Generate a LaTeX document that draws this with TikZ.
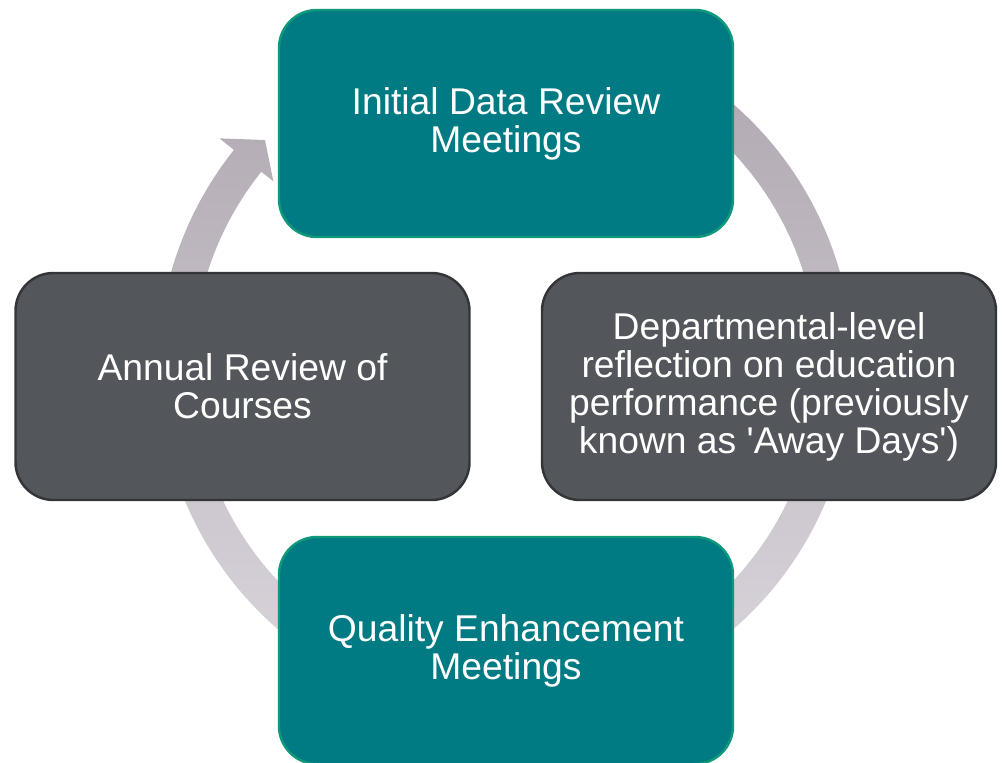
\documentclass[tikz,border=0pt]{standalone}
\usepackage{fontspec}
\setmainfont{Liberation Sans}
\usetikzlibrary{calc}

\definecolor{tealFill}{RGB}{0,122,131}
\definecolor{tealLine}{RGB}{16,152,122}
\definecolor{slateFill}{RGB}{83,86,90}
\definecolor{slateLine}{RGB}{52,53,56}
\definecolor{ringTop}{RGB}{174,166,176}
\definecolor{ringBottom}{RGB}{222,218,224}

\tikzset{
	stageBox/.style={rectangle, minimum width=4.54cm, minimum height=2.27cm, rounded corners=0.38cm, line width=0.7pt, align=center, text=white, font=\fontsize{10.6}{10.8}\selectfont},
	tealBox/.style={stageBox, draw=tealLine, fill=tealFill},
	slateBox/.style={stageBox, draw=slateLine, fill=slateFill}
}

\begin{document}
\begin{tikzpicture}
	\useasboundingbox (0,0) rectangle (10.02,7.62);
	\coordinate (hub) at (5.055,3.953);

	% cycle arrow, drawn first so the boxes sit on it
	\shade[top color=ringTop, bottom color=ringBottom] ($(hub)+(75:3.475)$) arc[start angle=75, end angle=-218.6, radius=3.475] -- ($(hub)+(141.4:3.66)$) -- ($(hub)+(136.7:3.305)$) -- ($(hub)+(141.4:2.97)$) -- ($(hub)+(141.4:3.125)$) arc[start angle=-218.6, end angle=75, radius=3.125] -- cycle;

	% four stages round the cycle
	\node[tealBox](initialReview) at (5.06,6.385){Initial Data Review\\Meetings};
	\node[slateBox](deptReflection) at (7.69,3.755){Departmental-level\\reflection on education\\performance (previously\\known as \textquotesingle Away Days\textquotesingle)};
	\node[tealBox](qualityMeetings) at (5.06,1.115){Quality Enhancement\\Meetings};
	\node[slateBox](annualReview) at (2.425,3.755){Annual Review of\\Courses};
\end{tikzpicture}
\end{document}
